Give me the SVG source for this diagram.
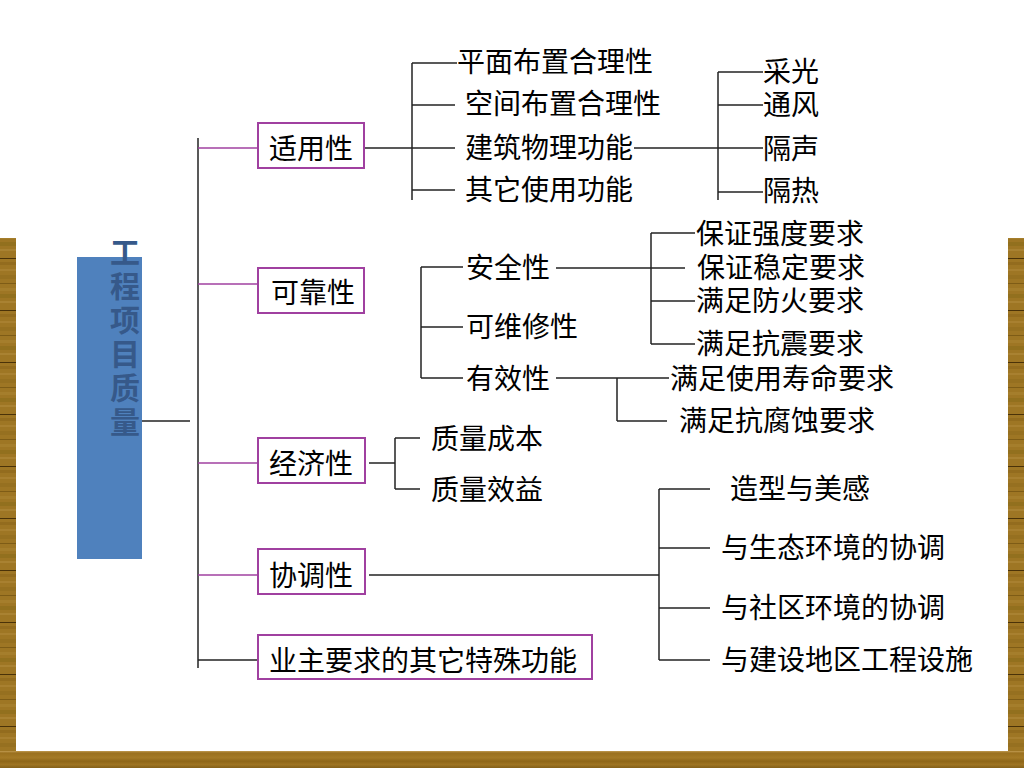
<svg xmlns="http://www.w3.org/2000/svg" width="1024" height="768" viewBox="0 0 1024 768">
<defs>
<style>
.t{font-family:"Noto Sans CJK SC","Liberation Sans",sans-serif;font-size:28px;fill:#000;dominant-baseline:central}
.box{fill:#fff;stroke:#a040a0;stroke-width:2}
.ln{stroke:#222;stroke-width:1.5;fill:none}
.pl{stroke:#a040a0;stroke-width:1.5;fill:none}
.title{font-family:"Noto Sans CJK SC","Liberation Sans",sans-serif;font-size:30px;font-weight:bold;fill:#36598a;writing-mode:vertical-rl;letter-spacing:4px}
</style>
<pattern id="woodV" patternUnits="userSpaceOnUse" x="0" y="207" width="16" height="52">
<rect width="16" height="52" fill="#9e7624"/>
<rect y="3" width="16" height="3" fill="#936c1e"/>
<rect y="10" width="16" height="2" fill="#a88030"/>
<rect y="16" width="16" height="4" fill="#967020"/>
<rect y="24" width="16" height="1" fill="#7e5c16"/>
<rect y="29" width="16" height="3" fill="#a57e2c"/>
<rect y="35" width="16" height="4" fill="#92701e"/>
<rect y="42" width="16" height="2" fill="#a98232"/>
<rect y="51" width="16" height="1.5" fill="#4a3208"/>
</pattern>
<linearGradient id="woodH" x1="0" y1="0" x2="0" y2="1">
<stop offset="0" stop-color="#c09a50"/>
<stop offset="0.12" stop-color="#9a701e"/>
<stop offset="0.4" stop-color="#a47a26"/>
<stop offset="0.6" stop-color="#8e6618"/>
<stop offset="0.8" stop-color="#9e7422"/>
<stop offset="1" stop-color="#83601a"/>
</linearGradient>
</defs>
<rect width="1024" height="768" fill="#fff"/>
<g id="frame">
<rect x="0" y="238" width="16" height="530" fill="url(#woodV)"/>
<rect x="1008" y="238" width="16" height="530" fill="url(#woodV)"/>
<rect x="0" y="751" width="1024" height="17" fill="url(#woodH)"/>
</g>

<g id="connectors">
<line class="ln" x1="138" y1="421" x2="190" y2="421"/>
<line class="ln" x1="198" y1="138" x2="198" y2="668"/>
<line class="pl" x1="198" y1="148" x2="258" y2="148"/>
<line class="pl" x1="198" y1="284" x2="258" y2="284"/>
<line class="pl" x1="198" y1="463" x2="258" y2="463"/>
<line class="pl" x1="198" y1="575" x2="258" y2="575"/>
<line class="ln" x1="198" y1="660" x2="258" y2="660"/>
<line class="ln" x1="360" y1="148" x2="412" y2="148"/>
<line class="ln" x1="412" y1="63" x2="412" y2="200"/>
<line class="ln" x1="412" y1="63" x2="457" y2="63"/>
<line class="ln" x1="412" y1="105" x2="455" y2="105"/>
<line class="ln" x1="412" y1="148" x2="455" y2="148"/>
<line class="ln" x1="412" y1="190" x2="455" y2="190"/>
<line class="ln" x1="634" y1="148" x2="718" y2="148"/>
<line class="ln" x1="718" y1="72" x2="718" y2="200"/>
<line class="ln" x1="718" y1="72" x2="763" y2="72"/>
<line class="ln" x1="718" y1="105" x2="763" y2="105"/>
<line class="ln" x1="718" y1="148" x2="763" y2="148"/>
<line class="ln" x1="718" y1="192" x2="763" y2="192"/>
<line class="ln" x1="421" y1="267" x2="421" y2="378"/>
<line class="ln" x1="421" y1="267" x2="463" y2="267"/>
<line class="ln" x1="421" y1="327" x2="463" y2="327"/>
<line class="ln" x1="421" y1="378" x2="463" y2="378"/>
<line class="ln" x1="556" y1="268" x2="685" y2="268"/>
<line class="ln" x1="651" y1="233" x2="651" y2="344"/>
<line class="ln" x1="651" y1="233" x2="695" y2="233"/>
<line class="ln" x1="651" y1="301" x2="695" y2="301"/>
<line class="ln" x1="651" y1="344" x2="695" y2="344"/>
<line class="ln" x1="556" y1="378" x2="669" y2="378"/>
<line class="ln" x1="617" y1="378" x2="617" y2="421"/>
<line class="ln" x1="617" y1="421" x2="667" y2="421"/>
<line class="ln" x1="369" y1="463" x2="395" y2="463"/>
<line class="ln" x1="395" y1="438" x2="395" y2="489"/>
<line class="ln" x1="395" y1="438" x2="420" y2="438"/>
<line class="ln" x1="395" y1="489" x2="420" y2="489"/>
<line class="ln" x1="369" y1="575" x2="659" y2="575"/>
<line class="ln" x1="659" y1="489" x2="659" y2="660"/>
<line class="ln" x1="659" y1="489" x2="710" y2="489"/>
<line class="ln" x1="659" y1="548" x2="710" y2="548"/>
<line class="ln" x1="659" y1="608" x2="710" y2="608"/>
<line class="ln" x1="659" y1="660" x2="710" y2="660"/>
</g>

<g id="root">
<rect x="77" y="257" width="65" height="302" fill="#4f81bd"/>
<text class="title" x="125" y="237">工程项目质量</text>
</g>

<g id="n-shiyong"><rect class="box" x="258" y="123" width="106" height="45"/><text class="t" x="269" y="147">适用性</text></g>
<g id="n-kekao"><rect class="box" x="258" y="268" width="106" height="45"/><text class="t" x="271" y="291">可靠性</text></g>
<g id="n-jingji"><rect class="box" x="258" y="438" width="107" height="45"/><text class="t" x="269" y="462">经济性</text></g>
<g id="n-xietiao"><rect class="box" x="258" y="549" width="107" height="45"/><text class="t" x="269" y="574">协调性</text></g>
<g id="n-yezhu"><rect class="box" x="258" y="635" width="334" height="44"/><text class="t" x="269" y="659">业主要求的其它特殊功能</text></g>

<g id="n-pingmian"><text class="t" x="457" y="60">平面布置合理性</text></g>
<g id="n-kongjian"><text class="t" x="465" y="102">空间布置合理性</text></g>
<g id="n-jianzhu"><text class="t" x="465" y="146">建筑物理功能</text></g>
<g id="n-qita"><text class="t" x="465" y="188">其它使用功能</text></g>
<g id="n-caiguang"><text class="t" x="763" y="70">采光</text></g>
<g id="n-tongfeng"><text class="t" x="763" y="103">通风</text></g>
<g id="n-gesheng"><text class="t" x="763" y="147">隔声</text></g>
<g id="n-gere"><text class="t" x="763" y="189">隔热</text></g>

<g id="n-anquan"><text class="t" x="466" y="266">安全性</text></g>
<g id="n-weixiu"><text class="t" x="466" y="325">可维修性</text></g>
<g id="n-youxiao"><text class="t" x="466" y="377">有效性</text></g>
<g id="n-qiangdu"><text class="t" x="696" y="232">保证强度要求</text></g>
<g id="n-wending"><text class="t" x="697" y="266">保证稳定要求</text></g>
<g id="n-fanghuo"><text class="t" x="696" y="299">满足防火要求</text></g>
<g id="n-kangzhen"><text class="t" x="696" y="342">满足抗震要求</text></g>
<g id="n-shouming"><text class="t" x="670" y="377">满足使用寿命要求</text></g>
<g id="n-fushi"><text class="t" x="679" y="419">满足抗腐蚀要求</text></g>

<g id="n-chengben"><text class="t" x="431" y="437">质量成本</text></g>
<g id="n-xiaoyi"><text class="t" x="431" y="488">质量效益</text></g>

<g id="n-zaoxing"><text class="t" x="730" y="487">造型与美感</text></g>
<g id="n-shengtai"><text class="t" x="721" y="546">与生态环境的协调</text></g>
<g id="n-shequ"><text class="t" x="721" y="606">与社区环境的协调</text></g>
<g id="n-sheshi"><text class="t" x="721" y="658">与建设地区工程设施</text></g>
</svg>
